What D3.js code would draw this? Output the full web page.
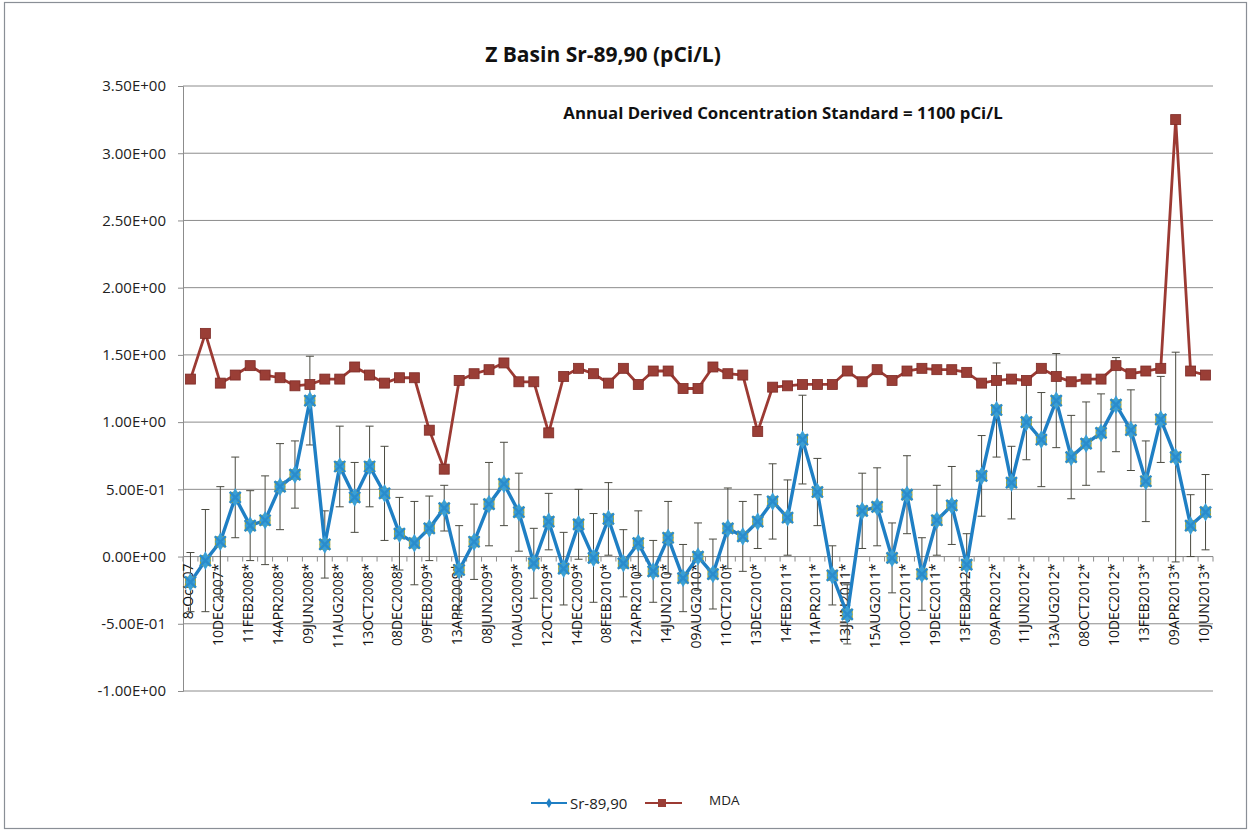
<!DOCTYPE html>
<html>
<head>
<meta charset="utf-8">
<script src="https://cdn.jsdelivr.net/npm/d3@7"></script>
<style>
  html, body { margin: 0; padding: 0; background: #fff; }
  svg { display: block; font-family: "Open Sans", Lato, sans-serif; }
</style>
</head>
<body>
<svg id="chart" width="1250" height="832"></svg>
<script>
const dates = ["8-Oct-07","NOV2007","10DEC2007*","JAN2008","11FEB2008*","MAR2008","14APR2008*","MAY2008","09JUN2008*","JUL2008","11AUG2008*","SEP2008","13OCT2008*","NOV2008","08DEC2008*","JAN2009","09FEB2009*","MAR2009","13APR2009*","MAY2009","08JUN2009*","JUL2009","10AUG2009*","SEP2009","12OCT2009*","NOV2009","14DEC2009*","JAN2010","08FEB2010*","MAR2010","12APR2010*","MAY2010","14JUN2010*","JUL2010","09AUG2010*","SEP2010","11OCT2010*","NOV2010","13DEC2010*","JAN2011","14FEB2011*","MAR2011","11APR2011*","MAY2011","13JUN2011*","JUL2011","15AUG2011*","SEP2011","10OCT2011*","NOV2011","19DEC2011*","JAN2012","13FEB2012*","MAR2012","09APR2012*","MAY2012","11JUN2012*","JUL2012","13AUG2012*","SEP2012","08OCT2012*","NOV2012","10DEC2012*","JAN2013","13FEB2013*","MAR2013","09APR2013*","MAY2013","10JUN2013*"];
const shownLabelEvery = 2;

const srValues = [-0.19,-0.03,0.11,0.44,0.23,0.27,0.52,0.61,1.16,0.09,0.67,0.44,0.67,0.47,0.17,0.10,0.21,0.36,-0.10,0.11,0.39,0.54,0.33,-0.05,0.26,-0.09,0.24,-0.01,0.28,-0.05,0.10,-0.11,0.14,-0.16,0.00,-0.13,0.21,0.15,0.26,0.41,0.29,0.87,0.48,-0.14,-0.43,0.34,0.37,-0.01,0.46,-0.13,0.27,0.38,-0.06,0.60,1.09,0.55,1.00,0.87,1.16,0.74,0.84,0.92,1.13,0.94,0.56,1.02,0.74,0.23,0.33];

const srErrors = [0.22,0.38,0.41,0.30,0.26,0.33,0.32,0.25,0.33,0.25,0.30,0.26,0.30,0.35,0.27,0.31,0.24,0.17,0.33,0.28,0.31,0.31,0.29,0.26,0.21,0.27,0.26,0.33,0.27,0.25,0.24,0.23,0.27,0.25,0.25,0.26,0.30,0.26,0.20,0.28,0.28,0.33,0.25,0.22,0.22,0.28,0.29,0.26,0.29,0.27,0.26,0.29,0.23,0.30,0.35,0.27,0.28,0.35,0.35,0.31,0.31,0.29,0.35,0.30,0.30,0.32,0.78,0.23,0.28];

const mdaValues = [1.32,1.66,1.29,1.35,1.42,1.35,1.33,1.27,1.28,1.32,1.32,1.41,1.35,1.29,1.33,1.33,0.94,0.65,1.31,1.36,1.39,1.44,1.30,1.30,0.92,1.34,1.40,1.36,1.29,1.40,1.28,1.38,1.38,1.25,1.25,1.41,1.36,1.35,0.93,1.26,1.27,1.28,1.28,1.28,1.38,1.30,1.39,1.31,1.38,1.40,1.39,1.39,1.37,1.29,1.31,1.32,1.31,1.40,1.34,1.30,1.32,1.32,1.42,1.36,1.38,1.40,3.25,1.38,1.35];

const yTicks = [3.5,3.0,2.5,2.0,1.5,1.0,0.5,0.0,-0.5,-1.0];
const yTickLabels = ["3.50E+00","3.00E+00","2.50E+00","2.00E+00","1.50E+00","1.00E+00","5.00E-01","0.00E+00","-5.00E-01","-1.00E+00"];

const title = "Z Basin Sr-89,90 (pCi/L)";
const note = "Annual Derived Concentration Standard = 1100 pCi/L";
const seriesNames = ["Sr-89,90","MDA"];

const svg = d3.select("#chart");
const SR_COLOR = "#1f7fc4", SR_MARK = "#3a9fd6", SR_EDGE = "#a3a43a";
const MDA_COLOR = "#9c3a33", MDA_MARK = "#9a3e36";

// frame
svg.append("rect").attr("x",4.5).attr("y",2.5).attr("width",1242).attr("height",826)
  .attr("fill","#fff").attr("stroke","#8a8f96").attr("stroke-width",1.2);

const plotL = 183, plotR = 1213, plotT = 86, plotB = 691;
const x = d3.scaleBand().domain(d3.range(dates.length)).range([plotL, plotR]).padding(0);
const cx = i => x(i) + x.bandwidth()/2;
const y = d3.scaleLinear().domain([-1, 3.5]).range([plotB, plotT]);

// gridlines
svg.append("g").selectAll("line").data(yTicks).join("line")
  .attr("x1", plotL).attr("x2", plotR)
  .attr("y1", d => y(d)).attr("y2", d => y(d))
  .attr("stroke", "#8c8c8c").attr("stroke-width", 1);

// y axis
const yAxis = d3.axisLeft(y).tickValues(yTicks).tickSize(5).tickPadding(6)
  .tickFormat((d,i) => yTickLabels[i]);
const gy = svg.append("g").attr("transform", `translate(${plotL},0)`).call(yAxis);
gy.select(".domain").attr("stroke","#8c8c8c");
gy.selectAll(".tick line").attr("stroke","#8c8c8c");
gy.selectAll("text").attr("font-size", 15).attr("fill","#222").attr("dx", -6)
  .attr("font-family", "'Open Sans', sans-serif");

// x axis at zero
const gx = svg.append("g").attr("transform", `translate(0,${y(0)})`);
gx.append("line").attr("x1", plotL).attr("x2", plotR).attr("stroke","#8c8c8c");
gx.selectAll("line.tk").data(d3.range(dates.length + 1)).join("line").attr("class","tk")
  .attr("x1", i => plotL + i * x.bandwidth()).attr("x2", i => plotL + i * x.bandwidth())
  .attr("y1", 0).attr("y2", 5).attr("stroke","#8c8c8c");
gx.selectAll("text.lb").data(d3.range(0, dates.length, shownLabelEvery)).join("text").attr("class","lb")
  .attr("transform", i => `translate(${cx(i)+3},7) rotate(-90)`)
  .attr("text-anchor","end")
  .attr("font-size", 14).attr("fill","#111")
  .text(i => dates[i]);

// error bars for Sr
const eb = svg.append("g").attr("stroke","#4a4a40").attr("stroke-width",1);
srValues.forEach((v,i) => {
  const e = srErrors[i];
  eb.append("line").attr("x1",cx(i)).attr("x2",cx(i)).attr("y1",y(v+e)).attr("y2",y(v-e));
  eb.append("line").attr("x1",cx(i)-4).attr("x2",cx(i)+4).attr("y1",y(v+e)).attr("y2",y(v+e));
  eb.append("line").attr("x1",cx(i)-4).attr("x2",cx(i)+4).attr("y1",y(v-e)).attr("y2",y(v-e));
});

// MDA line
const line = d3.line().x((d,i) => cx(i)).y(d => y(d));
svg.append("path").datum(mdaValues).attr("d", line)
  .attr("fill","none").attr("stroke",MDA_COLOR).attr("stroke-width",2.8);
svg.append("g").selectAll("rect").data(mdaValues).join("rect")
  .attr("x",(d,i) => cx(i)-5).attr("y", d => y(d)-5).attr("width",10).attr("height",10)
  .attr("fill",MDA_MARK).attr("stroke","#7e2b26").attr("stroke-width",0.8);

// Sr line
svg.append("path").datum(srValues).attr("d", line)
  .attr("fill","none").attr("stroke",SR_COLOR).attr("stroke-width",3.4);
const mk = svg.append("g");
srValues.forEach((v,i) => {
  const g = mk.append("g").attr("transform",`translate(${cx(i)},${y(v)})`);
  g.append("rect").attr("x",-5.5).attr("y",-5.5).attr("width",11).attr("height",11).attr("fill",SR_EDGE);
  g.append("path").attr("d", d3.symbol(d3.symbolDiamond, 100)()).attr("fill",SR_MARK);
  g.append("path").attr("d", d3.symbol(d3.symbolSquare, 60)()).attr("fill",SR_MARK);
  g.append("path").attr("d","M-5.5,-5.5L5.5,5.5M-5.5,5.5L5.5,-5.5").attr("stroke","#2a8ccc").attr("stroke-width",2.4);
});

// title and note
svg.append("text").attr("x",603).attr("y",62).attr("text-anchor","middle")
  .attr("font-size",21).attr("font-weight","bold").attr("fill","#111").text(title);
svg.append("text").attr("x",783).attr("y",119).attr("text-anchor","middle")
  .attr("font-size",16.8).attr("font-weight","bold").attr("fill","#111").text(note);

// legend
const lg = svg.append("g").attr("transform","translate(0,803)");
lg.append("line").attr("x1",531).attr("x2",567).attr("stroke",SR_COLOR).attr("stroke-width",2.2);
lg.append("path").attr("transform","translate(549,0)").attr("d", d3.symbol(d3.symbolDiamond, 30)()).attr("fill",SR_COLOR);
lg.append("text").attr("x",570).attr("y",5.5).attr("font-size",15).attr("fill","#222").text(seriesNames[0]);
lg.append("line").attr("x1",645).attr("x2",682).attr("stroke",MDA_COLOR).attr("stroke-width",2.2);
lg.append("rect").attr("x",658).attr("y",-4).attr("width",8).attr("height",8).attr("fill",MDA_MARK);
lg.append("text").attr("x",709).attr("y",2).attr("font-size",13.5).attr("fill","#222").text(seriesNames[1]);
</script>
</body>
</html>
